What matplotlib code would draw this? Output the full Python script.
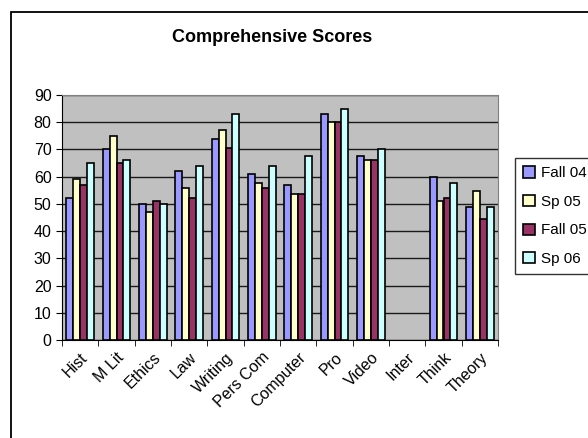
import numpy as np
import matplotlib
matplotlib.use("Agg")
import matplotlib.pyplot as plt
from matplotlib.patches import Rectangle
from matplotlib.transforms import ScaledTranslation

plt.rcParams['font.family'] = ['Liberation Sans', 'DejaVu Sans']

categories = ["Hist", "M Lit", "Ethics", "Law", "Writing", "Pers Com",
              "Computer", "Pro", "Video", "Inter", "Think", "Theory"]
series_names = ["Fall 04", "Sp 05", "Fall 05", "Sp 06"]
fall04 = [52, 70, 50, 62, 74, 61, 57, 83, 67.7, np.nan, 60, 49]
sp05 = [59, 75, 47, 56, 77, 57.6, 53.6, 80, 66, np.nan, 51, 54.7]
fall05 = [57, 65, 51, 52, 70.7, 56, 53.6, 80, 66, np.nan, 52, 44.6]
sp06 = [65, 66, 50, 64, 83, 64, 67.7, 84.7, 70, np.nan, 57.6, 49]
colors = ["#9999FF", "#FFFFCC", "#993366", "#CCFFFF"]
y_ticks = list(range(0, 91, 10))

W, H = 588, 438
fig = plt.figure(figsize=(W / 100, H / 100), dpi=100)

# chart frame
fig.patches.append(Rectangle((11 / W, -0.1), 1.2, 1 - 12 / H + 0.1,
                             transform=fig.transFigure, fill=False,
                             edgecolor="black", linewidth=1.3))

ax = fig.add_axes([62 / W, 1 - 340 / H, (498 - 62) / W, (340 - 95) / H])
ax.set_facecolor("#C0C0C0")

x = np.arange(len(categories))
bw = 0.19
all_series = [fall04, sp05, fall05, sp06]
for i, (vals, name, col) in enumerate(zip(all_series, series_names, colors)):
    ax.bar(x + (i - 1.5) * bw, vals, width=bw, color=col, edgecolor="black",
           linewidth=1.2, label=name, zorder=3)

ax.set_xlim(-0.5, len(categories) - 0.5)
ax.set_ylim(0, 90)
ax.set_yticks(y_ticks)
ax.yaxis.grid(True, color="#1a1a1a", linewidth=1.0, zorder=1)
ax.set_axisbelow(True)

# category labels centred, tick marks between categories
ax.set_xticks(x)
ax.set_xticklabels(categories, rotation=45, ha="right", rotation_mode="anchor",
                   fontsize=11.5)
shift = ScaledTranslation(-5 / 100, 0, fig.dpi_scale_trans)
for lab in ax.get_xticklabels():
    lab.set_transform(lab.get_transform() + shift)
ax.tick_params(axis="x", length=0, pad=7)
ax.set_xticks(np.arange(-0.5, len(categories)), minor=True)
ax.tick_params(axis="x", which="minor", length=4, direction="out", color="black")
ax.tick_params(axis="y", length=4, direction="out", labelsize=11.5, color="black")

for side in ["top", "right"]:
    ax.spines[side].set_color("#808080")
for side in ["left", "bottom"]:
    ax.spines[side].set_color("black")

fig.text(272 / W, 1 - 38 / H, "Comprehensive Scores", ha="center", va="center",
         fontsize=13, fontweight="bold")

leg = fig.legend(loc="upper left", bbox_to_anchor=(515 / W, 1 - 158 / H),
                 frameon=True, fancybox=False, fontsize=11, handlelength=0.75,
                 handleheight=0.75, handletextpad=0.4, labelspacing=0.95,
                 borderpad=0.55, borderaxespad=0)
leg.get_frame().set_edgecolor("black")
leg.get_frame().set_linewidth(1.0)

fig.savefig("out.png", dpi=100)
